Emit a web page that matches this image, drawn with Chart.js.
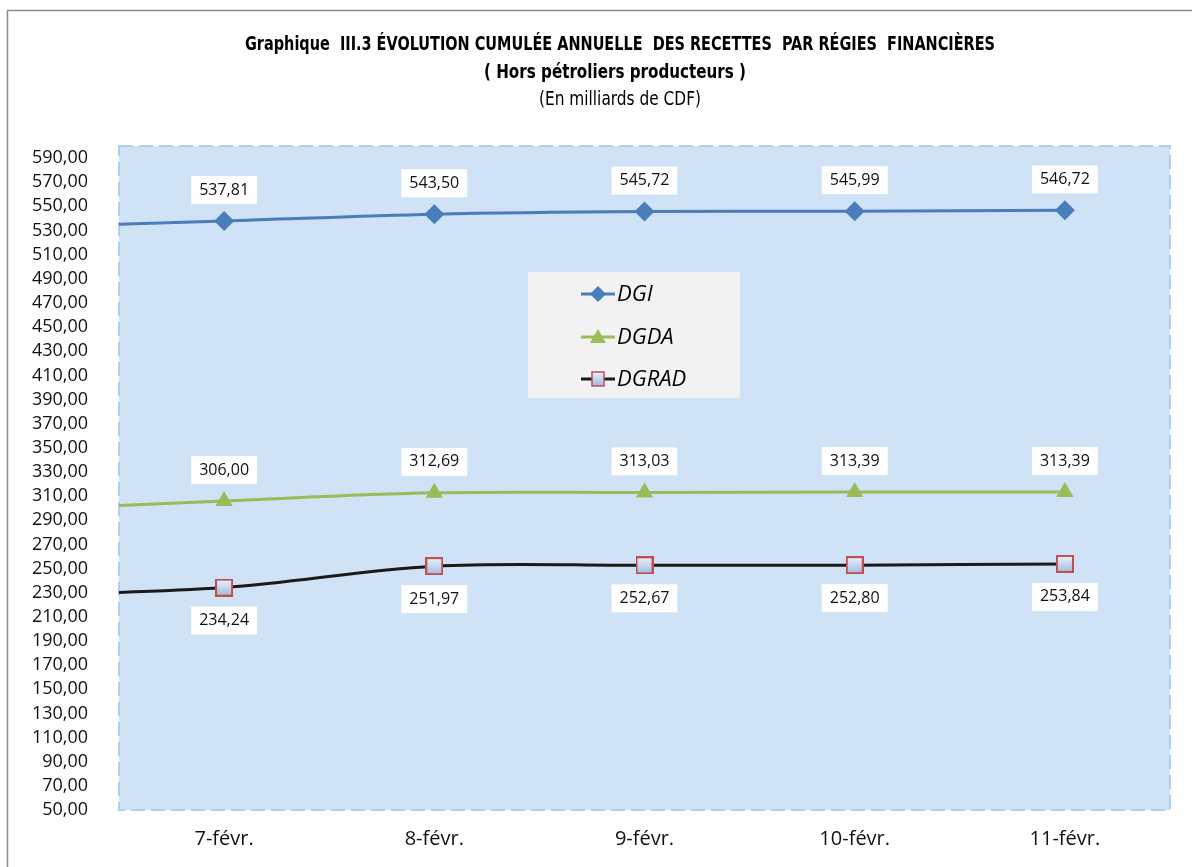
<!DOCTYPE html>
<html>
<head>
<meta charset="utf-8">
<script src="https://cdn.jsdelivr.net/npm/chart.js@4/dist/chart.umd.min.js"></script>
<style>
  body { margin: 0; background: #fff; }
  #wrap { width: 1192px; height: 867px; }
</style>
</head>
<body>
<div id="wrap"><canvas id="myChart" width="1192" height="867"></canvas></div>
<script>
// first label is the previous day, only its connecting line shows at the left edge
const labels = ['6-févr.', '7-févr.', '8-févr.', '9-févr.', '10-févr.', '11-févr.'];
const dgi = [532.5, 537.81, 543.50, 545.72, 545.99, 546.72];
const dgda = [298.5, 306.00, 312.69, 313.03, 313.39, 313.39];
const dgrad = [227.5, 234.24, 251.97, 252.67, 252.80, 253.84];
const yTicks = [];
for (let v = 50; v <= 590; v += 20) yTicks.push(v);

const fmt = v => v.toFixed(2).replace('.', ',');

// squares of DGRAD get a light blue gradient fill
function squareFill(ctx) {
    const g = ctx.createLinearGradient(0, -7, 0, 7);
    g.addColorStop(0, '#e8f0fb');
    g.addColorStop(1, '#9fb9e0');
    return g;
}

const bgPlugin = {
    id: 'bgPlugin',
    beforeDatasetsDraw(chart) {
        const {ctx, chartArea: a} = chart;
        ctx.save();
        ctx.fillStyle = '#d0e2f5';
        ctx.fillRect(a.left, a.top, a.right - a.left, a.bottom - a.top);
        ctx.setLineDash([14, 6]);
        ctx.strokeStyle = '#b3cdee';
        ctx.lineWidth = 2;
        ctx.strokeRect(a.left, a.top, a.right - a.left, a.bottom - a.top);
        ctx.restore();
    },
    beforeDraw(chart) {
        const ctx = chart.ctx;
        ctx.save();
        ctx.fillStyle = '#fff';
        ctx.fillRect(0, 0, chart.width, chart.height);
        ctx.strokeStyle = '#8c8c8c';
        ctx.lineWidth = 1.5;
        ctx.strokeRect(7.5, 10.5, 1300, 1000);
        ctx.fillStyle = '#000';
        ctx.textAlign = 'center';
        ctx.textBaseline = 'middle';
        const cond = '"Liberation Sans Narrow", "DejaVu Sans Condensed", sans-serif';
        ctx.font = 'bold 20px ' + cond;
        ctx.fillText('Graphique  III.3 ÉVOLUTION CUMULÉE ANNUELLE  DES RECETTES  PAR RÉGIES  FINANCIÈRES', 620, 45, 750);
        ctx.fillText('( Hors pétroliers producteurs )', 615, 73, 262);
        ctx.font = '19px ' + cond;
        ctx.fillText('(En milliards de CDF)', 620, 100, 162);
        ctx.restore();
    }
};

const labelPlugin = {
    id: 'labelPlugin',
    afterDatasetsDraw(chart) {
        const ctx = chart.ctx;
        ctx.save();
        ctx.font = '16px "Open Sans", sans-serif';
        ctx.textAlign = 'center';
        ctx.textBaseline = 'middle';
        chart.data.datasets.forEach((ds, i) => {
            const meta = chart.getDatasetMeta(i);
            meta.data.forEach((pt, j) => {
                if (j === 0) return;
                const txt = fmt(ds.data[j]);
                const y = pt.y + ds.labelOffset;
                const w = ctx.measureText(txt).width + 16;
                ctx.fillStyle = '#fff';
                ctx.fillRect(pt.x - w / 2, y - 14, w, 28);
                ctx.fillStyle = '#111';
                ctx.fillText(txt, pt.x, y);
            });
        });
        // legend box inside the plot
        ctx.fillStyle = '#f2f2f2';
        ctx.fillRect(528, 272, 212, 126);
        const rows = [
            {name: 'DGI', y: 294, color: '#4a7ebb', marker: 'diamond'},
            {name: 'DGDA', y: 337, color: '#9bbb59', marker: 'tri'},
            {name: 'DGRAD', y: 379, color: '#1a1a1a', marker: 'square'}
        ];
        rows.forEach(r => {
            ctx.strokeStyle = r.color;
            ctx.lineWidth = 3;
            ctx.beginPath();
            ctx.moveTo(581, r.y);
            ctx.lineTo(615, r.y);
            ctx.stroke();
            ctx.save();
            ctx.translate(598, r.y);
            if (r.marker === 'diamond') {
                ctx.fillStyle = r.color;
                ctx.beginPath();
                ctx.moveTo(0, -8); ctx.lineTo(8, 0); ctx.lineTo(0, 8); ctx.lineTo(-8, 0);
                ctx.closePath(); ctx.fill();
            } else if (r.marker === 'tri') {
                ctx.fillStyle = r.color;
                ctx.beginPath();
                ctx.moveTo(0, -8); ctx.lineTo(8, 6); ctx.lineTo(-8, 6);
                ctx.closePath(); ctx.fill();
            } else {
                ctx.fillStyle = squareFill(ctx);
                ctx.fillRect(-6, -7, 12, 14);
                ctx.strokeStyle = '#c0504d';
                ctx.lineWidth = 1.5;
                ctx.strokeRect(-6, -7, 12, 14);
            }
            ctx.restore();
            ctx.fillStyle = '#000';
            ctx.textAlign = 'left';
            ctx.font = 'italic 22px "Open Sans", sans-serif';
            ctx.fillText(r.name, 617, r.y + 1);
        });
        ctx.restore();
    }
};

const rectStyle = document.createElement('canvas');
rectStyle.width = 18; rectStyle.height = 18;
(function () {
    const c = rectStyle.getContext('2d');
    const g = c.createLinearGradient(0, 1, 0, 17);
    g.addColorStop(0, '#eaf1fb');
    g.addColorStop(1, '#a3bce2');
    c.fillStyle = g;
    c.fillRect(1, 1, 16, 16);
    c.strokeStyle = '#c0504d';
    c.lineWidth = 2;
    c.strokeRect(1, 1, 16, 16);
})();

const data = {
    labels: labels,
    datasets: [{
        label: 'DGI',
        data: dgi,
        borderColor: '#4a7ebb',
        backgroundColor: '#4a7ebb',
        borderWidth: 3,
        pointStyle: 'rectRot',
        pointRadius: 10,
        pointBorderWidth: 0,
        tension: 0.35,
        labelOffset: -31
    }, {
        label: 'DGDA',
        data: dgda,
        borderColor: '#9bbb59',
        backgroundColor: '#9bbb59',
        borderWidth: 3,
        pointStyle: 'triangle',
        pointRadius: 10,
        pointBorderWidth: 0,
        tension: 0.35,
        labelOffset: -31
    }, {
        label: 'DGRAD',
        data: dgrad,
        borderColor: '#1a1a1a',
        backgroundColor: '#1a1a1a',
        borderWidth: 3,
        pointStyle: rectStyle,
        pointRadius: 9,
        tension: 0.35,
        labelOffset: 33
    }]
};

const config = {
    type: 'line',
    data: data,
    options: {
        responsive: false,
        animation: false,
        layout: { padding: { left: 0, top: 146, right: 22, bottom: 0 } },
        plugins: { legend: { display: false }, tooltip: { enabled: false } },
        scales: {
            x: {
                type: 'category',
                min: '7-févr.',
                offset: true,
                grid: { display: false, drawTicks: false },
                border: { display: false },
                ticks: { color: '#111', padding: 17, font: { family: 'Open Sans', size: 20 } },
                afterFit(s) { s.height = 57; }
            },
            y: {
                min: 50,
                max: 600,
                grid: { display: false, drawTicks: false },
                border: { display: false },
                afterBuildTicks(s) { s.ticks = yTicks.map(v => ({value: v})); },
                ticks: {
                    color: '#111',
                    padding: 31,
                    autoSkip: false,
                    font: { family: 'Open Sans', size: 18 },
                    callback: v => fmt(v)
                },
                afterFit(s) { s.width = 119; }
            }
        }
    },
    plugins: [bgPlugin, labelPlugin]
};

const myChart = new Chart(document.getElementById('myChart'), config);
</script>
</body>
</html>
